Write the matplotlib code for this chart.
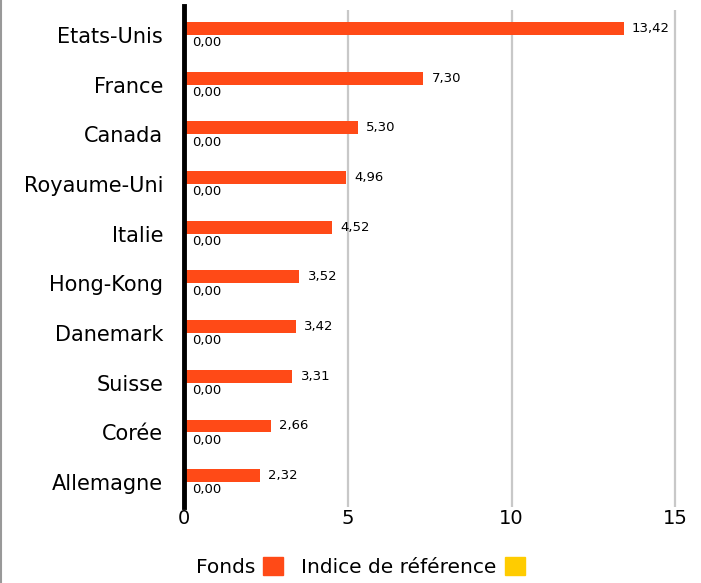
import matplotlib.pyplot as plt
import numpy as np
from matplotlib.patches import Patch
from matplotlib.lines import Line2D

# Top 10 countries, fund vs benchmark weights (%)
countries = ['Etats-Unis', 'France', 'Canada', 'Royaume-Uni', 'Italie',
             'Hong-Kong', 'Danemark', 'Suisse', 'Corée', 'Allemagne']
fonds = [13.42, 7.30, 5.30, 4.96, 4.52, 3.52, 3.42, 3.31, 2.66, 2.32]
indice = [0.00, 0.00, 0.00, 0.00, 0.00, 0.00, 0.00, 0.00, 0.00, 0.00]
x_ticks = [0, 5, 10, 15]

orange = '#FF4A17'
yellow = '#FFCC00'

plt.rcParams['font.family'] = ['DejaVu Sans']

fig = plt.figure(figsize=(7.01, 5.83), dpi=100)
ax = fig.add_axes([0.2625, 0.1304, 0.7033, 0.8525])

y = np.arange(len(countries))
h = 0.26
ax.barh(y - h / 2, fonds, height=h, color=orange, zorder=3)
ax.barh(y + h / 2, indice, height=h, color=yellow, zorder=3)

# value labels
for yi, v in zip(y, fonds):
    ax.annotate(f'{v:.2f}'.replace('.', ','), (v, yi - h / 2), xytext=(6, 0),
                textcoords='offset points', va='center', ha='left', fontsize=9.5)
for yi, v in zip(y, indice):
    ax.annotate(f'{v:.2f}'.replace('.', ','), (v, yi + h / 2), xytext=(6, -1),
                textcoords='offset points', va='center', ha='left', fontsize=9.5)

ax.set_xlim(0, 15.05)
ax.set_ylim(len(countries) - 0.5, -0.5)
ax.set_yticks(y)
ax.set_yticklabels(countries, fontsize=15)
ax.set_xticks(x_ticks)
ax.set_xticklabels([str(t) for t in x_ticks], fontsize=14)
ax.tick_params(axis='y', length=0, pad=15)
ax.tick_params(axis='x', length=0, pad=1.5)

for s in ax.spines.values():
    s.set_visible(False)
for t in x_ticks[1:]:
    ax.axvline(t, color='#C8C8C8', lw=1.6, zorder=1)
ax.plot([0, 0], [len(countries) - 0.5, -0.58], color='black', lw=3.5,
        zorder=4, clip_on=False)

# legend: text first, then square
handles = [Patch(color=orange), Patch(color=yellow)]
fig.legend(handles, ['Fonds', 'Indice de référence'], loc='center',
           bbox_to_anchor=(0.514, 0.028), ncol=2, frameon=False, markerfirst=False,
           fontsize=14.5, handlelength=1.0, handleheight=1.0, handletextpad=0.4,
           columnspacing=0.9)

# grey frame line on the left
fig.add_artist(Line2D([0.002, 0.002], [0, 1], color='#999999', lw=1.5))

fig.savefig('out.png', dpi=100)
